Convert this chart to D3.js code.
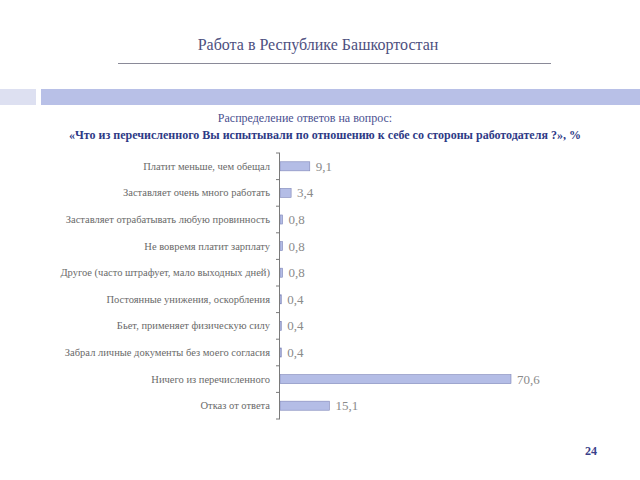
<!DOCTYPE html>
<html><head><meta charset="utf-8">
<script src="https://cdn.jsdelivr.net/npm/d3@7"></script>
<style>body{margin:0;background:#fff}svg{display:block} text{font-family:"Liberation Serif","DejaVu Serif",serif}</style>
</head><body>
<script>
const categories = [
  "Платит меньше, чем обещал",
  "Заставляет очень много работать",
  "Заставляет отрабатывать любую провинность",
  "Не вовремя платит зарплату",
  "Другое (часто штрафует, мало выходных дней)",
  "Постоянные унижения, оскорбления",
  "Бьет, применяет физическую силу",
  "Забрал личные документы без моего согласия",
  "Ничего из перечисленного",
  "Отказ от ответа"
];
const values = [9.1, 3.4, 0.8, 0.8, 0.8, 0.4, 0.4, 0.4, 70.6, 15.1];
const valueLabels = ["9,1", "3,4", "0,8", "0,8", "0,8", "0,4", "0,4", "0,4", "70,6", "15,1"];
const title = "Работа в Республике Башкортостан";
const subtitle1 = "Распределение ответов на вопрос:";
const subtitle2 = "«Что из перечисленного Вы испытывали по отношению к себе со стороны работодателя ?», %";
const pageNum = "24";

const W = 640, H = 480;
const svg = d3.select("body").append("svg").attr("width", W).attr("height", H);

// header
svg.append("text").attr("x", 318).attr("y", 50).attr("text-anchor", "middle")
  .attr("font-size", 16).attr("fill", "#4d5080").text(title);
svg.append("line").attr("x1", 118).attr("x2", 551).attr("y1", 63.5).attr("y2", 63.5)
  .attr("stroke", "#8a8a98").attr("stroke-width", 1.2);
svg.append("rect").attr("x", 0).attr("y", 89).attr("width", 36).attr("height", 16).attr("fill", "#dde0f1");
svg.append("rect").attr("x", 41).attr("y", 89).attr("width", 599).attr("height", 16).attr("fill", "#b8c0e7");

svg.append("text").attr("x", 305).attr("y", 122).attr("text-anchor", "middle")
  .attr("font-size", 12).attr("fill", "#4a5090").text(subtitle1);
svg.append("text").attr("x", 325).attr("y", 139).attr("text-anchor", "middle")
  .attr("font-size", 12).attr("font-weight", "bold").attr("fill", "#2e3a86").text(subtitle2);

// chart
const x0 = 280, yTop = 153, yBottom = 419;
const y = d3.scaleBand().domain(categories).range([yTop, yBottom]).paddingInner(0.66).paddingOuter(0.33);
const x = d3.scaleLinear().domain([0, 70.6]).range([x0, 511]);

const g = svg.append("g");
g.selectAll("rect.bar").data(values).join("rect").attr("class", "bar")
  .attr("x", x0).attr("y", (d, i) => y(categories[i]))
  .attr("width", d => x(d) - x0).attr("height", y.bandwidth())
  .attr("fill", "#b4bde6").attr("stroke", "#7f86b8").attr("stroke-width", 0.6);

g.selectAll("text.val").data(values).join("text").attr("class", "val")
  .attr("x", d => x(d) + 6).attr("y", (d, i) => y(categories[i]) + y.bandwidth() / 2 + 4.5)
  .attr("font-size", 13).attr("fill", "#8a8a8a")
  .text((d, i) => valueLabels[i]);

g.selectAll("text.cat").data(categories).join("text").attr("class", "cat")
  .attr("x", 270).attr("y", d => y(d) + y.bandwidth() / 2 + 3.5).attr("text-anchor", "end")
  .attr("font-size", 10.5).attr("fill", "#6a6a6a").text(d => d);

// axis
g.append("line").attr("x1", x0 - 0.5).attr("x2", x0 - 0.5).attr("y1", yTop).attr("y2", yBottom)
  .attr("stroke", "#7a7a7a").attr("stroke-width", 1);
const ticks = d3.range(categories.length + 1).map(i => yTop + i * (yBottom - yTop) / categories.length);
g.selectAll("line.tick").data(ticks).join("line").attr("class", "tick")
  .attr("x1", x0 - 4).attr("x2", x0).attr("y1", d => d).attr("y2", d => d)
  .attr("stroke", "#7a7a7a").attr("stroke-width", 1);

svg.append("text").attr("x", 591).attr("y", 455).attr("text-anchor", "middle")
  .attr("font-size", 12).attr("font-weight", "bold").attr("fill", "#3a3f8a").text(pageNum);
</script>
</body></html>
